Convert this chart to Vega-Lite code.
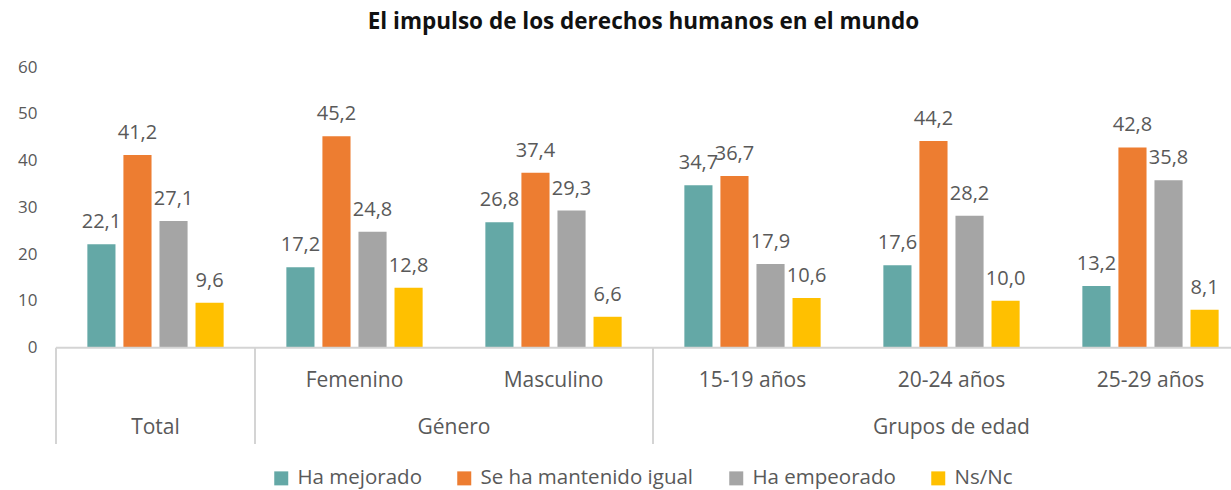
{
  "$schema": "https://vega.github.io/schema/vega-lite/v6.json",
  "autosize": {"type": "none"},
  "width": 1175,
  "height": 377,
  "padding": {"left": 56, "top": 67, "right": 0, "bottom": 46},
  "background": "white",
  "config": {
    "view": {"stroke": null},
    "font": "Open Sans",
    "locale": {"number": {"decimal": ",", "thousands": ".", "grouping": [3], "currency": ["", " €"]}}
  },
  "title": {
    "text": "El impulso de los derechos humanos en el mundo",
    "font": "Open Sans",
    "fontSize": 22.5,
    "fontWeight": "bold",
    "color": "#111111",
    "anchor": "middle",
    "offset": 25
  },
  "datasets": {
    "main": [
      {"cat": "Total", "serie": "Ha mejorado", "valor": 22.1},
      {"cat": "Total", "serie": "Se ha mantenido igual", "valor": 41.2},
      {"cat": "Total", "serie": "Ha empeorado", "valor": 27.1},
      {"cat": "Total", "serie": "Ns/Nc", "valor": 9.6},
      {"cat": "Femenino", "serie": "Ha mejorado", "valor": 17.2},
      {"cat": "Femenino", "serie": "Se ha mantenido igual", "valor": 45.2},
      {"cat": "Femenino", "serie": "Ha empeorado", "valor": 24.8},
      {"cat": "Femenino", "serie": "Ns/Nc", "valor": 12.8},
      {"cat": "Masculino", "serie": "Ha mejorado", "valor": 26.8},
      {"cat": "Masculino", "serie": "Se ha mantenido igual", "valor": 37.4},
      {"cat": "Masculino", "serie": "Ha empeorado", "valor": 29.3},
      {"cat": "Masculino", "serie": "Ns/Nc", "valor": 6.6},
      {"cat": "15-19 años", "serie": "Ha mejorado", "valor": 34.7},
      {"cat": "15-19 años", "serie": "Se ha mantenido igual", "valor": 36.7},
      {"cat": "15-19 años", "serie": "Ha empeorado", "valor": 17.9},
      {"cat": "15-19 años", "serie": "Ns/Nc", "valor": 10.6},
      {"cat": "20-24 años", "serie": "Ha mejorado", "valor": 17.6},
      {"cat": "20-24 años", "serie": "Se ha mantenido igual", "valor": 44.2},
      {"cat": "20-24 años", "serie": "Ha empeorado", "valor": 28.2},
      {"cat": "20-24 años", "serie": "Ns/Nc", "valor": 10.0},
      {"cat": "25-29 años", "serie": "Ha mejorado", "valor": 13.2},
      {"cat": "25-29 años", "serie": "Se ha mantenido igual", "valor": 42.8},
      {"cat": "25-29 años", "serie": "Ha empeorado", "valor": 35.8},
      {"cat": "25-29 años", "serie": "Ns/Nc", "valor": 8.1}
    ],
    "catlabels": [
      {"cat": "Femenino"},
      {"cat": "Masculino"},
      {"cat": "15-19 años"},
      {"cat": "20-24 años"},
      {"cat": "25-29 años"}
    ],
    "groups_center": [
      {"cat": "Total", "grupo": "Total"},
      {"cat": "20-24 años", "grupo": "Grupos de edad"}
    ],
    "groups_edge": [
      {"cat": "Femenino", "grupo": "Género"}
    ],
    "separators": [
      {"cat": "Total"},
      {"cat": "Femenino"},
      {"cat": "15-19 años"}
    ],
    "baseline": [
      {"nivel": 0}
    ]
  },
  "encoding": {
    "x": {
      "field": "cat",
      "type": "nominal",
      "scale": {
        "domain": ["Total", "Femenino", "Masculino", "15-19 años", "20-24 años", "25-29 años"],
        "range": [0, 1194],
        "paddingInner": 0,
        "paddingOuter": 0
      },
      "axis": null
    }
  },
  "layer": [
    {
      "data": {"name": "main"},
      "mark": {"type": "bar"},
      "encoding": {
        "xOffset": {
          "field": "serie",
          "type": "nominal",
          "scale": {
            "domain": ["Ha mejorado", "Se ha mantenido igual", "Ha empeorado", "Ns/Nc"],
            "paddingInner": 0.22,
            "paddingOuter": 0.87
          }
        },
        "y": {
          "field": "valor",
          "type": "quantitative",
          "scale": {"domain": [-20.6, 60], "nice": false, "zero": false},
          "axis": {
            "values": [0, 10, 20, 30, 40, 50, 60],
            "title": null,
            "grid": false,
            "ticks": false,
            "domain": false,
            "labelFont": "Open Sans",
            "labelFontSize": 17,
            "labelColor": "#595959",
            "labelPadding": 19
          }
        },
        "color": {
          "field": "serie",
          "type": "nominal",
          "scale": {
            "domain": ["Ha mejorado", "Se ha mantenido igual", "Ha empeorado", "Ns/Nc"],
            "range": ["#64a8a6", "#ed7d31", "#a5a5a5", "#ffc000"]
          },
          "legend": {
            "title": null,
            "orient": "none",
            "legendX": 215,
            "legendY": 401,
            "direction": "horizontal",
            "columns": 4,
            "columnPadding": 32,
            "symbolType": "square",
            "symbolSize": 196,
            "symbolStrokeWidth": 0,
            "labelOffset": 6,
            "labelLimit": 500,
            "labelFont": "Open Sans",
            "labelFontSize": 20.5,
            "labelColor": "#595959"
          }
        }
      }
    },
    {
      "data": {"name": "main"},
      "mark": {"type": "text", "baseline": "alphabetic", "dy": -16, "fontSize": 20, "color": "#595959", "font": "Open Sans"},
      "encoding": {
        "xOffset": {
          "field": "serie",
          "type": "nominal",
          "scale": {
            "domain": ["Ha mejorado", "Se ha mantenido igual", "Ha empeorado", "Ns/Nc"],
            "paddingInner": 0.22,
            "paddingOuter": 0.87
          }
        },
        "y": {"field": "valor", "type": "quantitative"},
        "text": {"field": "valor", "type": "quantitative", "format": ".1f"}
      }
    },
    {
      "data": {"name": "baseline"},
      "mark": {"type": "rule", "color": "#d4d4d4", "strokeWidth": 2},
      "encoding": {"x": null, "y": {"field": "nivel", "type": "quantitative"}}
    },
    {
      "data": {"name": "separators"},
      "mark": {"type": "rule", "color": "#d4d4d4", "strokeWidth": 2},
      "encoding": {
        "x": {"field": "cat", "type": "nominal", "bandPosition": 0},
        "y": {"datum": 0, "type": "quantitative"},
        "y2": {"datum": -20.6}
      }
    },
    {
      "data": {"name": "catlabels"},
      "mark": {"type": "text", "baseline": "middle", "fontSize": 21, "color": "#595959", "font": "Open Sans"},
      "encoding": {
        "y": {"datum": -7.2, "type": "quantitative"},
        "text": {"field": "cat", "type": "nominal"}
      }
    },
    {
      "data": {"name": "groups_center"},
      "mark": {"type": "text", "baseline": "middle", "fontSize": 21, "color": "#595959", "font": "Open Sans"},
      "encoding": {
        "y": {"datum": -17.2, "type": "quantitative"},
        "text": {"field": "grupo", "type": "nominal"}
      }
    },
    {
      "data": {"name": "groups_edge"},
      "mark": {"type": "text", "baseline": "middle", "fontSize": 21, "color": "#595959", "font": "Open Sans"},
      "encoding": {
        "x": {"field": "cat", "type": "nominal", "bandPosition": 1},
        "y": {"datum": -17.2, "type": "quantitative"},
        "text": {"field": "grupo", "type": "nominal"}
      }
    }
  ]
}
